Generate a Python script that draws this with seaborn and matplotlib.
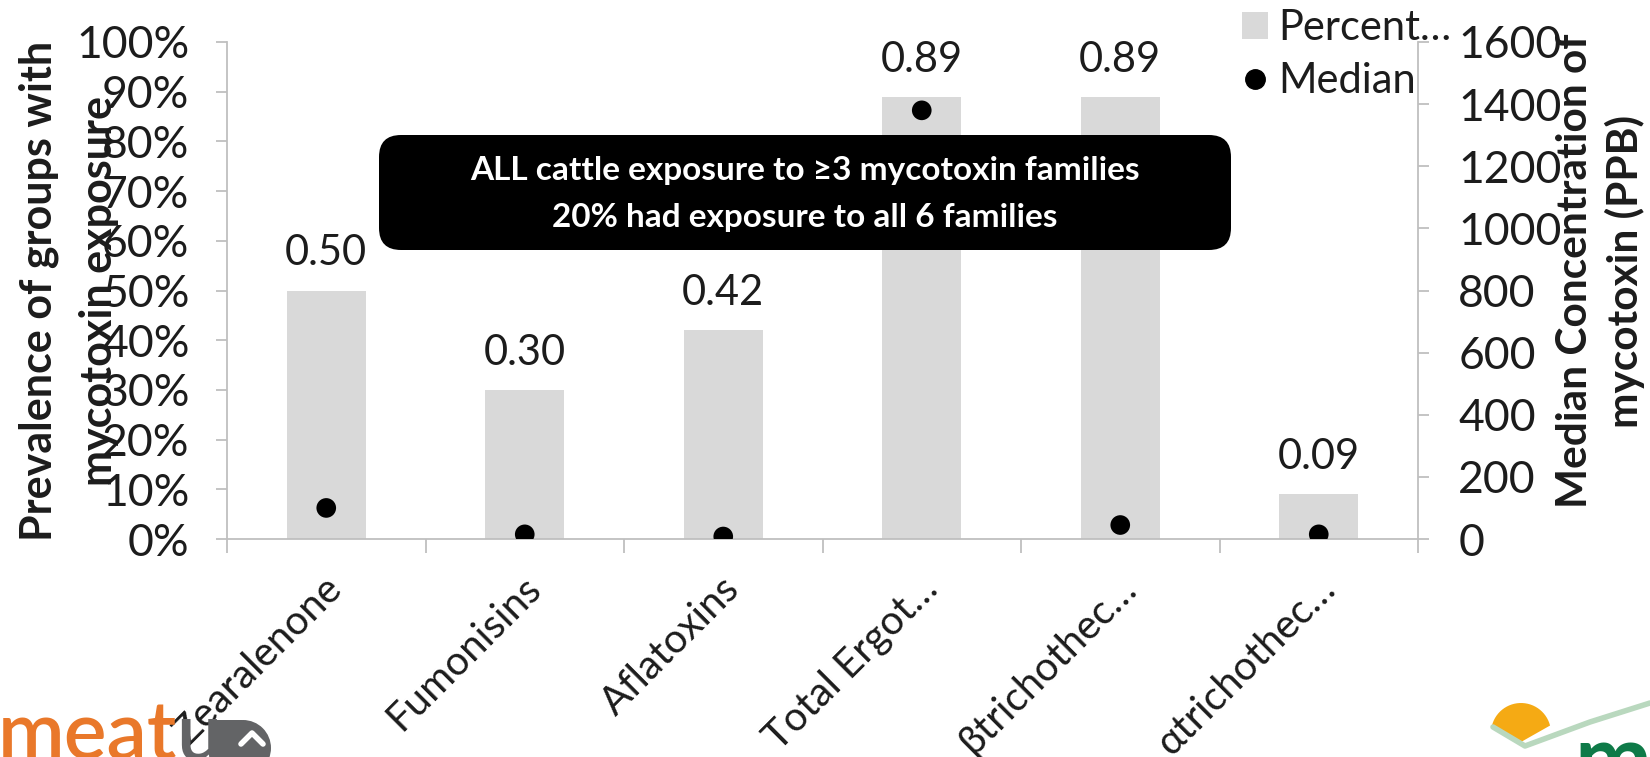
import numpy as np
import pandas as pd
import matplotlib
matplotlib.use("Agg")
import matplotlib.pyplot as plt
import matplotlib.transforms as mtransforms
from matplotlib.patches import FancyBboxPatch, Patch, Polygon, Circle, Rectangle
from matplotlib.lines import Line2D
from matplotlib.ticker import PercentFormatter
import seaborn as sns

# ---- data -------------------------------------------------------------
categories = ["Zearalenone", "Fumonisins", "Aflatoxins",
              "Total Ergot\u2026", "\u03b2trichothec\u2026", "\u03b1trichothec\u2026"]
prevalence = [0.50, 0.30, 0.42, 0.89, 0.89, 0.09]   # share of groups exposed
median_ppb = [100, 15, 8, 1380, 45, 15]              # median concentration (PPB)
left_ticks = [i / 10 for i in range(11)]
right_ticks = list(range(0, 1601, 200))
legend_labels = ["Percent\u2026", "Median"]
callout_lines = ["ALL cattle exposure to \u22653 mycotoxin families",
                 "20% had exposure to all 6 families"]

# ---- style ------------------------------------------------------------
W, H, DPI = 1650, 757, 100
BAR = "#D9D9D9"
AXIS = "#BFBFBF"
INK = "#1c1c1c"
FS_TICK = 32
FS_XTICK = 29
FS_VALUE = 30
FS_LEGEND = 30

sns.set_theme(style="white")
plt.rcParams["font.family"] = ["Lato", "DejaVu Sans"]

fig = plt.figure(figsize=(W / DPI, H / DPI), dpi=DPI)
PIX = mtransforms.IdentityTransform()


def box(x0, y0, x1, y1):
    """Figure-fraction rect from pixel edges measured from the top-left."""
    return [x0 / W, 1 - y1 / H, (x1 - x0) / W, (y1 - y0) / H]


AX_L, AX_T, AX_R, AX_B = 227, 42, 1418, 539
ax = fig.add_axes(box(AX_L, AX_T, AX_R, AX_B))

df = pd.DataFrame({"cat": categories, "prev": prevalence,
                   "med": median_ppb, "pos": np.arange(len(categories))})

# bars: prevalence on the left axis
sns.barplot(data=df, x="cat", y="prev", color=BAR, saturation=1,
            width=0.4, linewidth=0, ax=ax)
ax.bar_label(ax.containers[0], fmt="%.2f", padding=13, fontsize=FS_VALUE, color=INK)

# dots: median concentration on the right axis
ax2 = ax.twinx()
sns.scatterplot(data=df, x="pos", y="med", color="black", s=200,
                edgecolor="none", legend=False, zorder=3, ax=ax2)

# ---- axes -------------------------------------------------------------
ax.set_xlim(-0.5, len(categories) - 0.5)
ax.set_ylim(0, 1)
ax2.set_ylim(0, 1600)
ax.set_yticks(left_ticks)
ax.yaxis.set_major_formatter(PercentFormatter(1.0, decimals=0))
ax2.set_yticks(right_ticks)
ax.set_xlabel("")
ax2.set_xlabel("")

for a in (ax, ax2):
    a.spines["top"].set_visible(False)
    for side in ("left", "right", "bottom"):
        a.spines[side].set_color(AXIS)
        a.spines[side].set_linewidth(1.3)
ax.spines["right"].set_visible(False)
ax2.spines["left"].set_visible(False)
ax2.spines["bottom"].set_visible(False)

ax.tick_params(axis="y", which="major", direction="out", length=8,
               width=1.3, color=AXIS, pad=19, labelsize=FS_TICK, labelcolor=INK, left=True)
ax2.tick_params(axis="y", which="major", direction="out", length=8,
                width=1.3, color=AXIS, pad=21, labelsize=FS_TICK, labelcolor=INK, right=True)

# category separators below the axis
ax.set_xticks(np.arange(-0.5, len(categories), 1.0), minor=True)
ax.tick_params(axis="x", which="minor", direction="out", length=10,
               width=1.3, color=AXIS, bottom=True)
ax.set_xticks(np.arange(len(categories)))
ax.set_xticklabels(categories, rotation=45, ha="right", va="top",
                   rotation_mode="anchor", fontsize=FS_XTICK, color=INK)
ax.tick_params(axis="x", which="major", length=0, pad=22, bottom=True)
shift = mtransforms.ScaledTranslation(-0.03, 0, fig.dpi_scale_trans)
for lab in ax.get_xticklabels():
    lab.set_transform(lab.get_transform() + shift)

ax.set_ylabel("Prevalence of groups with\nmycotoxin exposure",
              fontsize=31, fontweight="bold", color=INK, linespacing=1.62)
ax.yaxis.set_label_coords((119 - AX_L) / (AX_R - AX_L), 0.5)
ax2.set_ylabel("Median Concentration of\nmycotoxin (PPB)",
               fontsize=30.5, fontweight="bold", color=INK, linespacing=1.33,
               rotation=90)
ax2.yaxis.set_label_coords((1556 - AX_L) / (AX_R - AX_L), (AX_B - 271) / (AX_B - AX_T))

# ---- legend -----------------------------------------------------------
handles = [Patch(facecolor=BAR, edgecolor="none"),
           Line2D([], [], marker="o", color="black", linestyle="none", markersize=14)]
fig.legend(handles, legend_labels, loc="upper left",
           bbox_to_anchor=(1242 / W, 1 - 9 / H), frameon=False, fontsize=FS_LEGEND,
           handlelength=0.62, handleheight=0.62, handletextpad=0.25,
           labelspacing=0.37, borderpad=0, borderaxespad=0, labelcolor=INK)

# ---- call-out ---------------------------------------------------------
cx0, cy0, cx1, cy1 = 379, 135, 1231, 250
callout = FancyBboxPatch((cx0, H - cy1), cx1 - cx0, cy1 - cy0,
                         boxstyle="round,pad=0,rounding_size=22",
                         facecolor="black", edgecolor="none",
                         transform=PIX, zorder=5)
fig.add_artist(callout)
fig.text((cx0 + cx1) / 2 / W, 1 - 194 / H, "\n".join(callout_lines),
         ha="center", va="center", color="white", fontsize=24,
         fontweight="bold", linespacing=1.75, zorder=6)

# ---- footer logos -----------------------------------------------------
fig.text(-2 / W, -2 / H, "meat", color="#E9782A", fontsize=58,
         fontweight="semibold", ha="left", va="baseline", zorder=1)
fig.text(176 / W, -2 / H, "u", color="#636466", fontsize=58,
         fontweight="semibold", ha="left", va="baseline", zorder=1)
fig.add_artist(Rectangle((214, 0), 28, H - 720, transform=PIX,
                         facecolor="#636466", edgecolor="none", zorder=1))
fig.add_artist(Circle((243, H - 748), 28, transform=PIX,
                      facecolor="#636466", edgecolor="none", zorder=1))
fig.add_artist(Line2D([241, 252, 263], [H - 744, H - 733, H - 744], transform=PIX,
                      color="white", linewidth=4, solid_capstyle="round", zorder=2))

t = np.linspace(np.pi * 0.08, np.pi * 0.92, 30)
dome = [(1521 + 30 * np.cos(a), H - (733 - 30 * np.sin(a))) for a in t]
dome += [(1521, H - 742)]
fig.add_artist(Polygon(dome, closed=True, transform=PIX,
                       facecolor="#F5AA14", edgecolor="none", zorder=1))
fig.add_artist(Line2D([1493, 1525, 1590, 1650], [H - 727, H - 746, H - 722, H - 703],
                      transform=PIX, color="#B9D8BE", linewidth=4, zorder=1))
fig.text(1574 / W, -33 / H, "ml", color="#0E7A48", fontsize=66,
         fontweight="bold", ha="left", va="baseline", zorder=1)

fig.savefig("out.png", dpi=DPI)
